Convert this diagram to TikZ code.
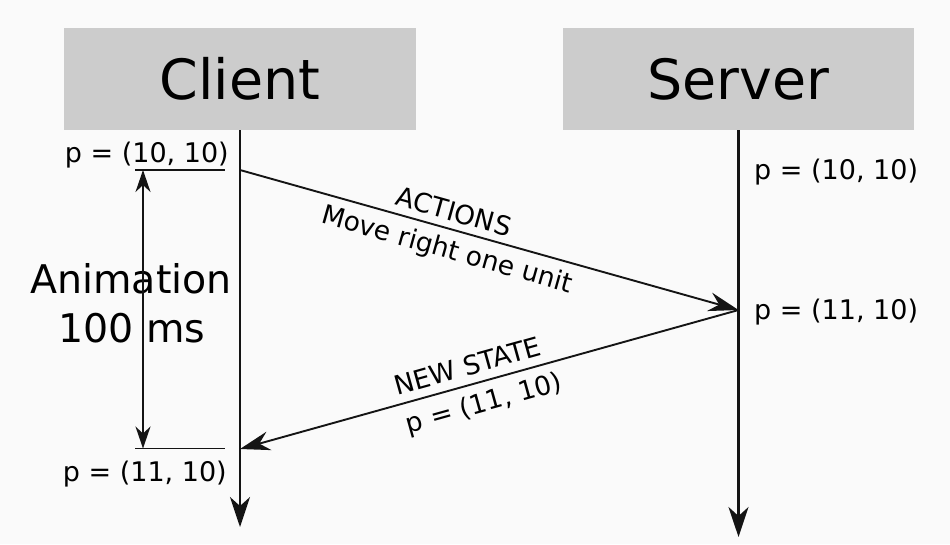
\documentclass[tikz,border=0pt]{standalone}
\usepackage{fontspec}
\setmainfont{DejaVu Sans}
\usetikzlibrary{arrows.meta}
\definecolor{bg}{RGB}{250,250,250}
\definecolor{boxgray}{RGB}{204,204,204}
\definecolor{ink}{RGB}{20,20,20}
\begin{document}
\begin{tikzpicture}[x=1pt,y=-1pt,
  box/.style={fill=boxgray, draw=none, minimum width=352pt, minimum height=102pt, inner sep=0pt, font=\fontsize{55.5}{66}\selectfont},
  lifeline/.style={draw=ink, line width=2.1pt, -{Stealth[length=30pt,width=20pt,inset=9pt]}},
  msg/.style={draw=ink, line width=1.9pt, -{Stealth[length=30pt,width=19pt,inset=10pt]}},
  span/.style={draw=ink, line width=1.9pt, {Stealth[length=22pt,width=15pt,inset=7pt]}-{Stealth[length=22pt,width=15pt,inset=7pt]}},
  tickline/.style={draw=ink, line width=1.9pt},
  lbl/.style={font=\fontsize{27}{32}\selectfont, inner sep=0pt},
  mlbl/.style={font=\fontsize{26.5}{32}\selectfont, inner sep=3pt, sloped},
  big/.style={font=\fontsize{39.5}{48}\selectfont, inner sep=0pt}]
\fill[bg] (0,0) rectangle (950,544);
\useasboundingbox (0,0) rectangle (950,544);

% header boxes
\node[box] (client) at (240,79) {Client};
\node[box, minimum width=351pt] (server) at (738.5,79) {Server};

% lifeline points
\coordinate (cEnd) at (240,527);
\coordinate (sEnd) at (738.5,537);
\coordinate (c1) at (240,170);
\coordinate (s1) at (738.5,310);
\coordinate (c2) at (240,449);

% ticks and span
\coordinate (t1a) at (135,170);
\coordinate (t1b) at (225,170);
\coordinate (t2a) at (135,448.5);
\coordinate (t2b) at (225,448.5);
\coordinate (a1) at (143,170);
\coordinate (a2) at (143,448.5);

% labels
\node[big, anchor=base] (anim) at (131,293) {Animation};
\node[big, anchor=base] (dur) at (132,342) {100 ms};

\draw[lifeline] (client.south) -- (cEnd);
\draw[lifeline] (server.south) -- (sEnd);

\draw[tickline] (t1a) -- (t1b);
\draw[tickline] (t2a) -- (t2b);
\draw[span] (a1) -- (a2);

\draw[msg] (c1) -- (s1)
  node[mlbl, pos=0.42, above=4pt] (act) {ACTIONS}
  node[mlbl, pos=0.427, below=5pt] (mv) {Move right one unit};
\draw[msg] (s1) -- (c2)
  node[mlbl, pos=0.533, above=5pt] (ns) {NEW STATE}
  node[mlbl, pos=0.522, below=6pt] (nsp) {p = (11, 10)};

\node[lbl, anchor=base east] (cp1) at (229,162) {p = (10, 10)};
\node[lbl, anchor=base east] (cp2) at (227,481) {p = (11, 10)};
\node[lbl, anchor=base west] (sp1) at (754,179) {p = (10, 10)};
\node[lbl, anchor=base west] (sp2) at (754,319) {p = (11, 10)};
\end{tikzpicture}
\end{document}
